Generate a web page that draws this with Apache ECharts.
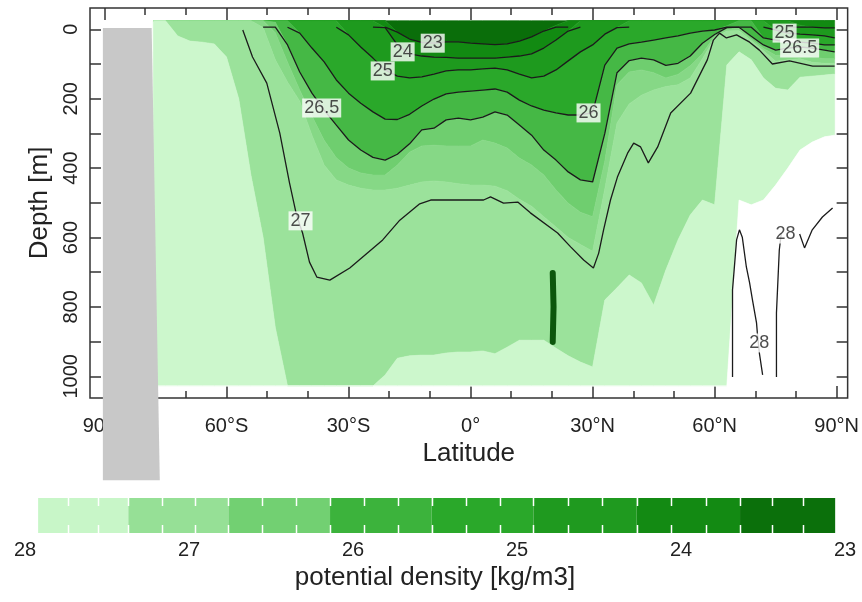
<!DOCTYPE html>
<html>
<head>
<meta charset="utf-8">
<title>Potential density section</title>
<script src="https://cdn.jsdelivr.net/npm/echarts@6/dist/echarts.min.js"></script>
<style>
  html, body { margin: 0; padding: 0; background: #fff; }
  #chart { width: 862px; height: 602px; }
</style>
</head>
<body>
<div id="chart"></div>
<script>
// latitude columns of the section (south negative)
const lats = [-78, -75, -72, -69, -66, -63, -60, -57, -54, -51,
  -48, -45, -42, -39, -36, -33, -30, -27, -24, -21,
  -18, -15, -12, -9, -6, -3, 0, 3, 6, 9,
  12, 15, 18, 21, 24, 27, 30, 33, 36, 39,
  42, 45, 48, 51, 54, 57, 60, 63, 66, 69,
  72, 75, 78, 81, 84, 87, 89.5];

const S = -25;   // top of the data (m)
const D = 1028;  // bottom of the data (m)

// depth (m) of each isopycnal / shading edge per latitude column
const sig23 = [S, S, S, S, S, S, S, S, S, S,
  S, S, S, S, S, S, S, S, S, S,
  8, 28, 38, 40, 36, 36, 40, 42, 44, 42,
  34, 22, 5, -12, S, S, S, S, S, S,
  S, S, S, S, S, S, S, S, S, S,
  S, S, S, S, S, S, S];
const sig24 = [S, S, S, S, S, S, S, S, S, S,
  S, S, S, S, S, S, S, S, S, -5,
  45, 71, 77, 80, 81, 83, 83, 83, 83, 80,
  77, 71, 54, 31, 5, S, S, S, S, S,
  S, S, S, S, S, S, S, S, S, S,
  S, S, S, -12, -7, -4, -4];
const sig25 = [S, S, S, S, S, S, S, S, S, S,
  S, S, S, S, S, S, 16, 51, 83, 117,
  135, 140, 137, 129, 120, 117, 117, 114, 112, 117,
  129, 140, 135, 117, 91, 65, 45, 14, -5, S,
  S, S, S, S, S, S, S, S, S, S,
  S, 2, 11, 14, 16, 19, 25];
const sig26 = [S, S, S, S, S, S, S, S, S, S,
  S, S, 11, 54, 94, 146, 184, 213, 238, 259,
  260, 245, 221, 201, 186, 181, 178, 175, 172, 181,
  204, 221, 233, 241, 247, 247, 240, 103, 54, 42,
  37, 31, 25, 19, 11, 5, 2, -10, S, S,
  25, 31, 37, 37, 40, 45, 45];
const sig265 = [S, S, S, S, S, S, S, S, S, S,
  -20, 45, 123, 184, 233, 276, 319, 348, 369, 377,
  360, 330, 290, 285, 261, 256, 261, 253, 238, 247,
  276, 305, 348, 377, 411, 434, 440, 300, 125, 90,
  83, 88, 104, 98, 77, 40, 15, -5, -8, 20,
  45, 60, 54, 51, 54, 60, 65];
const edgeA = [S, S, S, S, S, S, S, S, S, S,
  10, 95, 175, 250, 320, 370, 400, 414, 420, 420,
  391, 354, 336, 334, 336, 336, 336, 319, 328, 342,
  371, 391, 420, 463, 501, 527, 540, 380, 160, 123,
  117, 125, 140, 130, 105, 70, 20, 0, -2, 28,
  55, 75, 75, 72, 80, 85, 85];
const edgeB = [S, S, S, S, S, S, S, S, S, -5,
  88, 152, 207, 305, 391, 434, 449, 458, 463, 463,
  458, 449, 440, 437, 440, 445, 449, 449, 452, 465,
  490, 510, 540, 570, 600, 620, 640, 460, 270, 215,
  190, 175, 165, 160, 140, 85, 25, 5, 4, 33,
  62, 92, 88, 85, 95, 98, 98];
const edgeC = [S, S, 19, 34, 37, 42, 80, 200, 420, 600,
  860, D, D, D, D, D, D, D, D, 996,
  948, 941, 939, 939, 933, 930, 930, 927, 935, 916,
  896, 896, 896, 919, 941, 959, 973, 780, 745, 708,
  731, 795, 694, 607, 535, 492, 506, 103, 65, 88,
  140, 170, 175, 138, 135, 132, 129];
const edgeW = [D, D, D, D, D, D, D, D, D, D,
  D, D, D, D, D, D, D, D, D, D,
  D, D, D, D, D, D, D, D, D, D,
  D, D, D, D, D, D, D, D, D, D,
  D, D, D, D, D, D, D, D, 492, 506,
  492, 449, 400, 348, 325, 310, 305];

// isolines that are not shading edges: [lat, depth]
const iso27 = [[-56.0, 2], [-53.6, 80], [-50.1, 155], [-46.9, 299], [-44.5, 443], [-42.8, 535],
  [-41.3, 587], [-39.6, 671], [-37.8, 714], [-34.6, 723], [-29.7, 688], [-21.6, 607],
  [-17.4, 550], [-12.5, 503], [-9.8, 492], [3.2, 492], [4.9, 483], [8.1, 501], [11.6, 498],
  [14.7, 529], [21.4, 587], [24.6, 627], [27.8, 665], [30.2, 688], [31.5, 645], [32.7, 578],
  [34.4, 492], [36.1, 426], [38.6, 357], [40.1, 328], [41.8, 339], [43.7, 385], [46.0, 339],
  [49.2, 241], [54.1, 184], [58.2, 88], [59.7, 31], [61.2, 11], [62.9, 25], [65.4, 16],
  [68.6, 37], [71.0, 60], [74.2, 100], [78.4, 91], [84.1, 106], [89.5, 106]];
const iso28a = [[64.4, 1002], [64.4, 751], [65.4, 607], [66.1, 578], [66.8, 599], [67.8, 685],
  [68.6, 731], [69.3, 780], [70.3, 846], [70.5, 875], [71.0, 933], [71.8, 996]];
const iso28b = [[75.2, 1002], [75.2, 818], [75.9, 636], [76.4, 587]];
const iso28c = [[80.9, 590], [82.1, 630], [84.0, 578], [86.5, 541], [89.0, 515]];
const blob = [[20.2, 702], [20.4, 800], [20.2, 901]];

// contour labels: [lat, depth, text]
const isoLabels = [[-9.3, 40, '23'], [-16.7, 65, '24'], [-21.6, 120, '25'], [-36.6, 227, '26.5'],
  [29.0, 241, '26'], [-41.8, 552, '27'], [77.2, 11, '25'], [80.9, 54, '26.5'],
  [71.0, 904, '28'], [77.4, 590, '28']];

// land mask (grey bar)
const landLat = [-90.4, -78.4, -76.4, -90.4];
const landDepth = [-4, -4, 1300, 1300];

// axis ticks
const latTicks = [-90, -80, -70, -60, -50, -40, -30, -20, -10, 0, 10, 20, 30, 40, 50, 60, 70, 80, 90];
const latLabels = [-90, -60, -30, 0, 30, 60, 90];
const depthTicks = [0, 100, 200, 300, 400, 500, 600, 700, 800, 900, 1000];
const depthLabels = [0, 200, 400, 600, 800, 1000];

// colour bar
const cbEdges = [27.92, 27.37, 26.76, 26.14, 25.52, 24.90, 24.27, 23.64, 23.06];
const cbColors = ['#c8f6c8', '#96e096', '#72d072', '#3cb33c', '#2aa82a', '#1f9a1f', '#138a13', '#0b700b'];

// shading between successive edges, lightest density first at the top
const fillColors = ['#0a6e0a', '#128a12', '#1e9a1e', '#2aa82a', '#45b845',
  '#6fce6f', '#86d886', '#9be29b', '#ccf7cc', '#ffffff'];

const FONT = 'Liberation Sans, Arial, sans-serif';
const INK = '#222';
const LINE_TOP = -6;

const chart = echarts.init(document.getElementById('chart'));

// keep the edges ordered top to bottom
const layers = [lats.map(() => S)];
[sig23, sig24, sig25, sig26, sig265, edgeA, edgeB, edgeC, edgeW, lats.map(() => D)].forEach(edge => {
  const above = layers[layers.length - 1];
  layers.push(edge.map((d, i) => Math.max(d, above[i])));
});

function contourOf(edge) {
  return edge.map((d, i) => {
    const open = d > S || (i > 0 && edge[i - 1] > S) || (i < edge.length - 1 && edge[i + 1] > S);
    return open ? [lats[i], Math.max(d, LINE_TOP)] : [lats[i], '-'];
  });
}

function lineSeries(data, width, color) {
  return {
    type: 'line', data: data, symbol: 'none', silent: true, z: 5,
    lineStyle: { color: color || '#1b1b1b', width: width || 1.3 },
  };
}

const latFmt = v => v === 0 ? '0°' : (v < 0 ? (-v) + '°S' : v + '°N');
const tickStyle = { color: '#333', width: 1.5 };
const xBase = {
  type: 'value', gridIndex: 0, min: -93.56, max: 92.7,
  axisLine: { show: false, onZero: false }, splitLine: { show: false },
};
const yBase = {
  type: 'value', gridIndex: 0, inverse: true, min: -61.4, max: 1062.6,
  axisLine: { show: false, onZero: false }, splitLine: { show: false },
  axisTick: { inside: true, length: 11, customValues: depthTicks, lineStyle: tickStyle },
};

chart.setOption({
  animation: false,
  textStyle: { fontFamily: FONT },
  grid: [
    { left: 90, right: 14, top: 8, bottom: 204, show: true, borderColor: '#333', borderWidth: 1.5 },
    { left: 25, right: 17, top: 498, height: 35 },
  ],
  xAxis: [
    Object.assign({}, xBase, {
      position: 'bottom',
      axisTick: { inside: true, length: 7, customValues: latTicks, lineStyle: tickStyle },
      axisLabel: { show: false },
    }),
    Object.assign({}, xBase, {
      position: 'bottom',
      axisTick: { inside: true, length: 12, customValues: latLabels, lineStyle: tickStyle },
      axisLabel: { customValues: latLabels, formatter: latFmt, fontSize: 20, color: INK, margin: 18 },
      name: 'Latitude', nameLocation: 'middle', nameGap: 43,
      nameTextStyle: { fontSize: 26, color: INK },
    }),
    Object.assign({}, xBase, {
      position: 'top',
      axisTick: { inside: true, length: 7, customValues: latTicks, lineStyle: tickStyle },
      axisLabel: { show: false },
    }),
    Object.assign({}, xBase, {
      position: 'top',
      axisTick: { inside: true, length: 12, customValues: latLabels, lineStyle: tickStyle },
      axisLabel: { show: false },
    }),
    {
      type: 'value', gridIndex: 1, min: 23, max: 28, interval: 1, inverse: true,
      axisLine: { show: false }, axisTick: { show: false }, splitLine: { show: false },
      axisLabel: { fontSize: 20, color: INK, margin: 7 },
      name: 'potential density [kg/m3]', nameLocation: 'middle', nameGap: 32,
      nameTextStyle: { fontSize: 26, color: INK },
    },
  ],
  yAxis: [
    Object.assign({}, yBase, {
      position: 'left',
      axisLabel: { customValues: depthLabels, formatter: v => String(v), rotate: 90, fontSize: 20, color: INK, margin: 9 },
      name: 'Depth [m]', nameLocation: 'middle', nameGap: 34,
      nameTextStyle: { fontSize: 26, color: INK },
    }),
    Object.assign({}, yBase, { position: 'right', axisLabel: { show: false } }),
    { type: 'value', gridIndex: 1, min: 0, max: 1, show: false },
  ],
  series: [
    {
      // shaded density bands, each a polygon between two edges
      type: 'custom', silent: true, z: 1,
      data: fillColors.map((c, k) => [k]),
      renderItem: (params, api) => {
        const k = api.value(0);
        const upper = layers[k], lower = layers[k + 1];
        const pts = lats.map((x, i) => api.coord([x, upper[i]]));
        for (let i = lats.length - 1; i >= 0; i--) pts.push(api.coord([lats[i], lower[i]]));
        return {
          type: 'polygon', shape: { points: pts },
          style: { fill: fillColors[k], stroke: fillColors[k], lineWidth: 0.6 },
        };
      },
    },
    lineSeries(contourOf(sig23)),
    lineSeries(contourOf(sig24)),
    lineSeries(contourOf(sig25)),
    lineSeries(contourOf(sig26)),
    lineSeries(contourOf(sig265)),
    lineSeries(iso27),
    lineSeries(iso28a),
    lineSeries(iso28b),
    lineSeries(iso28c),
    Object.assign(lineSeries(blob), { lineStyle: { color: '#0c560c', width: 6, cap: 'round' } }),
    {
      type: 'scatter', silent: true, z: 20, symbolSize: 0,
      data: isoLabels,
      label: {
        show: true, position: 'inside', formatter: p => p.data[2],
        backgroundColor: '#fff', padding: [1, 2, 0, 2],
        fontSize: 18, color: INK, fontFamily: FONT,
      },
    },
    {
      // grey land bar, drawn over the frame like the original
      type: 'custom', silent: true, z: 10, clip: false,
      data: [[0]],
      renderItem: (params, api) => ({
        type: 'polygon',
        shape: { points: landLat.map((x, i) => api.coord([x, landDepth[i]])) },
        style: { fill: '#c8c8c8' },
      }),
    },
    {
      type: 'custom', silent: true, xAxisIndex: 4, yAxisIndex: 2,
      data: cbColors.map((c, i) => [cbEdges[i], cbEdges[i + 1], i]),
      renderItem: (params, api) => {
        const i = api.value(2);
        const p0 = api.coord([api.value(0), 1]);
        const p1 = api.coord([api.value(1), 0]);
        const w = p1[0] - p0[0];
        const h = p1[1] - p0[1];
        const children = [{
          type: 'rect', shape: { x: p0[0], y: p0[1], width: w, height: h },
          style: { fill: cbColors[i] },
        }];
        const marks = i > 0 ? [0, 1 / 3, 2 / 3] : [1 / 3, 2 / 3];
        marks.forEach(f => {
          const x = Math.round(p0[0] + w * f) + 0.5;
          children.push({ type: 'line', shape: { x1: x, y1: p0[1], x2: x, y2: p0[1] + 8 }, style: { stroke: '#fff', lineWidth: 1.5 } });
          children.push({ type: 'line', shape: { x1: x, y1: p1[1] - 8, x2: x, y2: p1[1] }, style: { stroke: '#fff', lineWidth: 1.5 } });
        });
        return { type: 'group', children: children };
      },
    },
  ],
});
</script>
</body>
</html>
